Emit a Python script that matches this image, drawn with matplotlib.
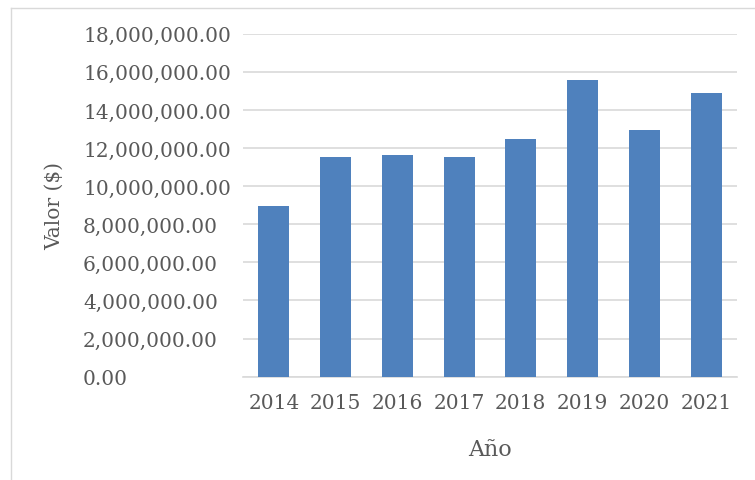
import matplotlib
matplotlib.use("Agg")
import matplotlib.pyplot as plt
from matplotlib.lines import Line2D
from matplotlib.ticker import FuncFormatter

years = ["2014", "2015", "2016", "2017", "2018", "2019", "2020", "2021"]
values = [8950000, 11510000, 11630000, 11530000, 12460000, 15580000, 12970000, 14910000]
y_ticks = [0, 2000000, 4000000, 6000000, 8000000, 10000000, 12000000, 14000000, 16000000, 18000000]

plt.rcParams['font.family'] = ['DejaVu Serif']
text_color = "#595959"

W, H = 755, 481
ax_l, ax_r, ax_t, ax_b = 243, 737, 34.7, 377.7

fig = plt.figure(figsize=(W / 100, H / 100), dpi=100)
ax = fig.add_axes([ax_l / W, 1 - ax_b / H, (ax_r - ax_l) / W, (ax_b - ax_t) / H])

x = list(range(len(years)))
ax.bar(x, values, width=0.5, color="#4f81bd", zorder=3)
ax.set_xlim(-0.5, len(years) - 0.5)
ax.set_ylim(0, 18000000)
ax.set_yticks(y_ticks)
ax.yaxis.set_major_formatter(FuncFormatter(lambda v, p: f"{v:,.2f}"))
ax.set_xticks(x)
ax.set_xticklabels(years)

ax.grid(axis="y", color="#d9d9d9", linewidth=1.2, zorder=0)
for s in ["top", "right", "left"]:
    ax.spines[s].set_visible(False)
ax.spines["bottom"].set_color("#d9d9d9")
ax.spines["bottom"].set_linewidth(1.2)
ax.tick_params(axis="both", length=0, colors=text_color, labelsize=14.5)
# left-aligned y tick labels starting at x = 83 px
ax.tick_params(axis="y", pad=(ax_l - 83) * 0.72)
for lbl in ax.get_yticklabels():
    lbl.set_horizontalalignment("left")
ax.tick_params(axis="x", pad=12)

ax.set_ylabel("Valor ($)", fontsize=14.5, color=text_color)
ax.yaxis.set_label_coords((64 - ax_l) / (ax_r - ax_l), 0.5)
ax.set_xlabel("Año", fontsize=16, color=text_color)
ax.xaxis.set_label_coords(0.5, (ax_b - 439) / (ax_b - ax_t))

# outer chart border (left and top only visible)
fig.add_artist(Line2D([11 / W, 11 / W], [0, 1 - 9 / H], transform=fig.transFigure, color="#d9d9d9", lw=1.0))
fig.add_artist(Line2D([11 / W, 1], [1 - 9 / H, 1 - 9 / H], transform=fig.transFigure, color="#d9d9d9", lw=1.0))

fig.savefig("out.png", dpi=100)
